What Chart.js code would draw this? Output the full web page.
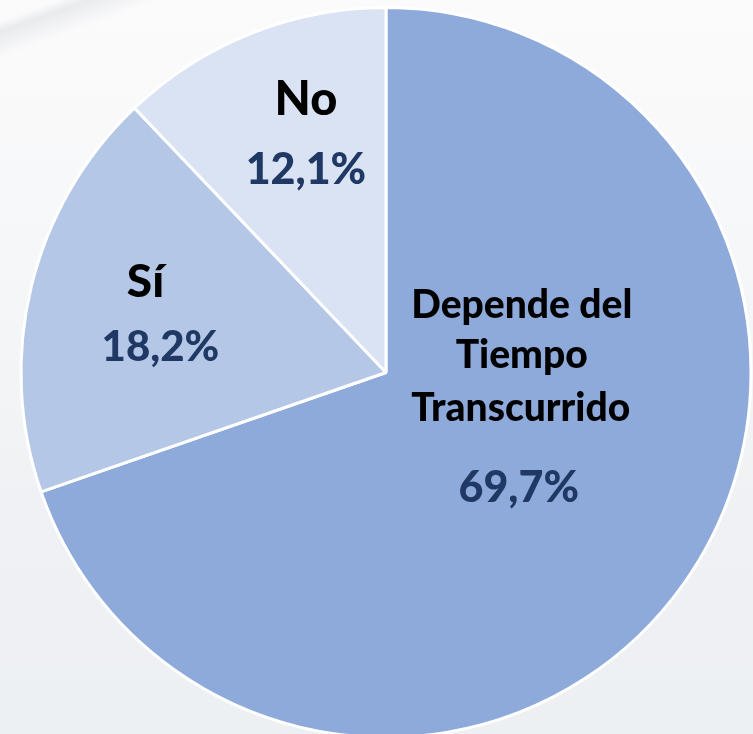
<!DOCTYPE html>
<html lang="es">
<head>
    <meta charset="UTF-8">
    <title>Pie</title>
    <script src="https://cdn.jsdelivr.net/npm/chart.js@4.4.0/dist/chart.umd.min.js"></script>
    <style>
        html, body {
            margin: 0;
            padding: 0;
            width: 753px;
            height: 734px;
            overflow: hidden;
            background: #eff1f4;
        }
        #bg {
            position: absolute;
            left: 0; top: 0;
            width: 753px; height: 734px;
            background:
                linear-gradient(160deg, rgba(255,255,255,0) 0px, rgba(255,255,255,0) 20px, rgba(200,204,210,0.35) 30px, rgba(255,255,255,0) 55px),
                linear-gradient(180deg, #fbfbfc 0%, #f6f7f8 35%, #eff1f4 70%, #edf0f3 100%);
        }
        #wrap {
            position: absolute;
            left: 0; top: 0;
        }
    </style>
</head>
<body>
    <div id="bg"></div>
    <div id="wrap">
        <canvas id="pie" width="772" height="739"></canvas>
    </div>
    <script>
        const labels = ['Depende del Tiempo Transcurrido', 'Sí', 'No'];
        const values = [69.7, 18.2, 12.1];
        const sliceColors = ['#8eaadb', '#b4c7e7', '#dae3f3'];
        const pctLabels = ['69,7%', '18,2%', '12,1%'];

        // where each label sits: fraction of radius and angle (null = slice middle)
        const labelPlace = [
            { frac: 0.375, angle: 0.176, lines: [
                { text: 'Depende del', dy: -91, dx: 1, size: 39, pct: false },
                { text: 'Tiempo', dy: -41, dx: 1, size: 39, pct: false },
                { text: 'Transcurrido', dy: 12, dx: 0, size: 39, pct: false },
                { text: pctLabels[0], dy: 92, dx: -2, size: 43, pct: true }
            ]},
            { frac: 0.65, angle: null, lines: [
                { text: 'Sí', dy: -34, dx: -10, size: 46, pct: false },
                { text: pctLabels[1], dy: 31, dx: 5, size: 42, pct: true }
            ]},
            { frac: 0.68, angle: null, lines: [
                { text: 'No', dy: -42, dx: 12, size: 47, pct: false },
                { text: pctLabels[2], dy: 28, dx: 12, size: 43, pct: true }
            ]}
        ];

        const sliceLabels = {
            id: 'sliceLabels',
            afterDatasetsDraw(chart) {
                const ctx = chart.ctx;
                const arcs = chart.getDatasetMeta(0).data;
                ctx.save();
                ctx.textAlign = 'center';
                ctx.textBaseline = 'middle';
                arcs.forEach((arc, i) => {
                    const p = arc.getProps(['x', 'y', 'startAngle', 'endAngle', 'outerRadius'], true);
                    const place = labelPlace[i];
                    const a = place.angle === null ? (p.startAngle + p.endAngle) / 2 : place.angle;
                    const lx = p.x + Math.cos(a) * p.outerRadius * place.frac;
                    const ly = p.y + Math.sin(a) * p.outerRadius * place.frac;
                    place.lines.forEach(l => {
                        ctx.font = '900 ' + l.size + 'px Lato';
                        ctx.fillStyle = l.pct ? '#203864' : '#000000';
                        ctx.fillText(l.text, lx + l.dx, ly + l.dy);
                    });
                });
                ctx.restore();
            }
        };

        new Chart(document.getElementById('pie'), {
            type: 'pie',
            data: {
                labels: labels,
                datasets: [{
                    data: values,
                    backgroundColor: sliceColors,
                    borderColor: '#ffffff',
                    borderWidth: 3
                }]
            },
            options: {
                responsive: false,
                animation: false,
                layout: { padding: { top: 6 } },
                plugins: {
                    legend: { display: false },
                    tooltip: { enabled: false }
                }
            },
            plugins: [sliceLabels]
        });
    </script>
</body>
</html>
